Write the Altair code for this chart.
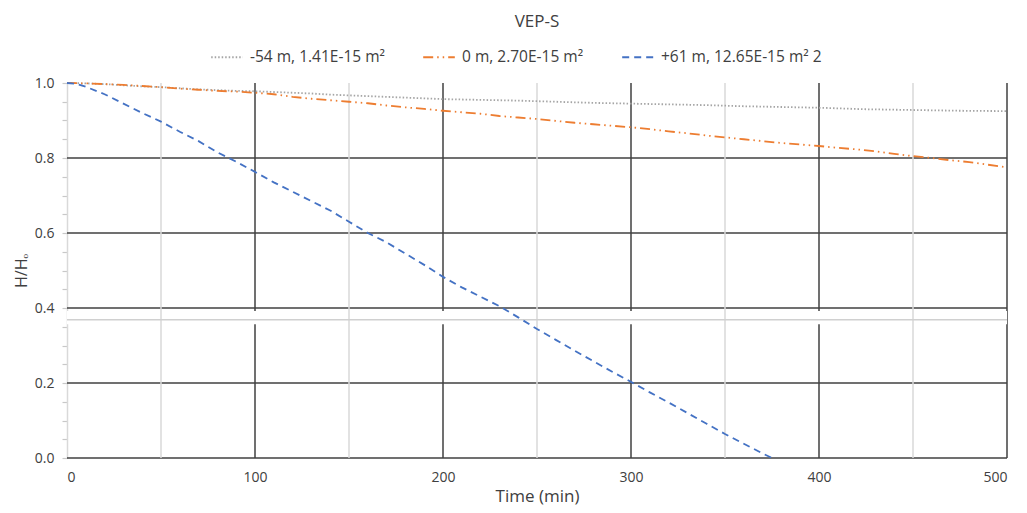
import altair as alt
import pandas as pd

FONT = "Open Sans"

series_names = ["-54 m, 1.41E-15 m²", "0 m, 2.70E-15 m²", "+61 m, 12.65E-15 m²   2"]
series_colors = ["#A5A5A5", "#ED7D31", "#4472C4"]

gray_t = [0, 10, 20, 30, 40, 50, 60, 70, 80, 90, 100, 110, 120, 130, 140, 150, 160, 170, 180, 190,
          200, 220, 240, 260, 280, 300, 320, 340, 360, 380, 400, 425, 450, 475, 500]
gray_v = [1.0, 0.999, 0.997, 0.994, 0.991, 0.989, 0.986, 0.983, 0.981, 0.979, 0.978, 0.976, 0.974,
          0.972, 0.969, 0.967, 0.965, 0.963, 0.961, 0.959, 0.957, 0.955, 0.953, 0.950, 0.947, 0.945,
          0.943, 0.941, 0.938, 0.936, 0.934, 0.930, 0.928, 0.926, 0.925]

orange_t = [0, 10, 20, 30, 40, 50, 60, 70, 80, 90, 100, 110, 120, 130, 140, 150, 160, 170, 180, 190,
            200, 210, 220, 230, 240, 250, 260, 270, 280, 290, 300, 310, 320, 330, 340, 350, 360, 370,
            380, 390, 400, 410, 420, 430, 440, 450, 460, 470, 480, 490, 500]
orange_v = [1.0, 0.999, 0.997, 0.995, 0.992, 0.989, 0.985, 0.982, 0.979, 0.977, 0.974, 0.970, 0.963,
            0.958, 0.954, 0.950, 0.946, 0.940, 0.935, 0.931, 0.926, 0.922, 0.918, 0.912, 0.908, 0.904,
            0.899, 0.894, 0.890, 0.886, 0.882, 0.877, 0.871, 0.866, 0.860, 0.855, 0.850, 0.845, 0.840,
            0.836, 0.832, 0.827, 0.823, 0.818, 0.811, 0.805, 0.800, 0.794, 0.789, 0.782, 0.775]

blue_t = [0, 5, 10, 20, 30, 40, 50, 60, 70, 80, 90, 100, 110, 120, 130, 140, 150, 160, 170, 180, 190,
          200, 210, 220, 230, 240, 250, 260, 270, 280, 290, 300, 310, 320, 330, 340, 350, 360, 370, 375]
blue_v = [1.0, 0.998, 0.99, 0.97, 0.945, 0.92, 0.897, 0.87, 0.845, 0.815, 0.79, 0.763, 0.735, 0.71,
          0.685, 0.66, 0.630, 0.60, 0.575, 0.545, 0.515, 0.483, 0.455, 0.43, 0.405, 0.375, 0.344, 0.315,
          0.286, 0.258, 0.23, 0.203, 0.175, 0.148, 0.12, 0.092, 0.064, 0.038, 0.012, 0.0]

x_label_values = [0, 100, 200, 300, 400, 500]
y_tick_values = [0.0, 0.05, 0.1, 0.15, 0.2, 0.25, 0.3, 0.35, 0.4, 0.45, 0.5, 0.55, 0.6, 0.65, 0.7,
                 0.75, 0.8, 0.85, 0.9, 0.95, 1.0]
major_x = [100, 200, 300, 400, 500]
minor_x = [50, 150, 250, 350, 450]
major_y = [0.0, 0.2, 0.4, 0.6, 0.8]
break_lo, break_hi = 0.357, 0.392
break_line = [0.369]

rows = []
for name, ts, vs in zip(series_names, [gray_t, orange_t, blue_t], [gray_v, orange_v, blue_v]):
    for t, v in zip(ts, vs):
        rows.append({"series": name, "t": t, "v": v})
df = pd.DataFrame(rows)

x_scale = alt.Scale(domain=[0, 500], nice=False, zero=False)
y_scale = alt.Scale(domain=[0, 1], nice=False, zero=False)

label_expr = "abs(datum.value*5 - round(datum.value*5)) < 0.001 ? format(datum.value, '.1f') : ''"

x_axis = alt.Axis(values=x_label_values, grid=False, domain=False, ticks=False,
                  labelPadding=12, title="Time (min)", titlePadding=4,
                  labelFont=FONT, labelFontSize=14, labelColor="#404040",
                  titleFont=FONT, titleFontSize=17, titleColor="#404040", titleFontWeight="normal")
y_axis = alt.Axis(values=y_tick_values, labelExpr=label_expr, grid=False,
                  domainColor="#D9D9D9", domainWidth=1.5, tickColor="#C8C8C8",
                  tickWidth=1.2, tickSize=5, labelPadding=8, title="H/Hₒ", titlePadding=5,
                  labelFont=FONT, labelFontSize=14, labelColor="#404040",
                  titleFont=FONT, titleFontSize=16, titleColor="#404040", titleFontWeight="normal")

major_v = alt.Chart(pd.DataFrame({"t": major_x})).mark_rule(color="#404040", strokeWidth=1.5).encode(
    x=alt.X("t:Q", scale=x_scale, axis=x_axis),
    y=alt.Y(datum=0, scale=y_scale, axis=y_axis),
    y2=alt.datum(1),
)
major_h = alt.Chart(pd.DataFrame({"v": major_y})).mark_rule(color="#404040", strokeWidth=1.5).encode(
    y=alt.Y("v:Q", scale=y_scale, axis=y_axis),
    x=alt.X(datum=0, scale=x_scale, axis=x_axis),
    x2=alt.datum(500),
)
gap = alt.Chart(pd.DataFrame({"a": [break_lo], "b": [break_hi]})).mark_rect(color="white").encode(
    y=alt.Y("a:Q", scale=y_scale, axis=y_axis),
    y2="b:Q",
    x=alt.X(datum=0, scale=x_scale, axis=x_axis),
    x2=alt.datum(500),
)
minor_v = alt.Chart(pd.DataFrame({"t": minor_x})).mark_rule(color="#D9D9D9", strokeWidth=1.5).encode(
    x=alt.X("t:Q", scale=x_scale, axis=x_axis),
    y=alt.Y(datum=0, scale=y_scale, axis=y_axis),
    y2=alt.datum(1),
)
brk = alt.Chart(pd.DataFrame({"v": break_line})).mark_rule(color="#D0D0D0", strokeWidth=1.5).encode(
    y=alt.Y("v:Q", scale=y_scale, axis=y_axis),
    x=alt.X(datum=0, scale=x_scale, axis=x_axis),
    x2=alt.datum(500),
)

legend = alt.Legend(title=None, orient="none", legendX=143, legendY=-43,
                    direction="horizontal", symbolType="stroke", symbolSize=1000,
                    symbolStrokeWidth=2, labelFontSize=15.5, labelFont=FONT,
                    labelColor="#404040", columnPadding=34, labelOffset=6, labelLimit=400)

lines = alt.Chart(df).mark_line(strokeWidth=1.8, strokeCap="butt").encode(
    x=alt.X("t:Q", scale=x_scale, axis=x_axis),
    y=alt.Y("v:Q", scale=y_scale, axis=y_axis),
    color=alt.Color("series:N", scale=alt.Scale(domain=series_names, range=series_colors),
                    legend=legend),
    strokeDash=alt.StrokeDash("series:N",
                              scale=alt.Scale(domain=series_names,
                                              range=[[1.5, 2], [10, 4, 1.5, 4, 1.5, 4], [7, 5]]),
                              legend=legend),
    order="t:Q",
)

chart = alt.layer(major_v, major_h, gap, minor_v, brk, lines).properties(
    width=940,
    height=375,
    background="white",
    title=alt.TitleParams("VEP-S", fontSize=17, fontWeight="normal", color="#404040", font=FONT,
                          anchor="middle", offset=9),
    padding={"left": 59, "top": 75, "right": 12, "bottom": 50},
    autosize=alt.AutoSizeParams(type="none"),
).configure_axis(
    labelFont=FONT, labelFontSize=14, labelColor="#404040",
    titleFont=FONT, titleFontSize=17, titleColor="#404040", titleFontWeight="normal",
).configure_view(stroke=None)

chart.save("out.html", embed_options={"renderer": "svg", "actions": False})
